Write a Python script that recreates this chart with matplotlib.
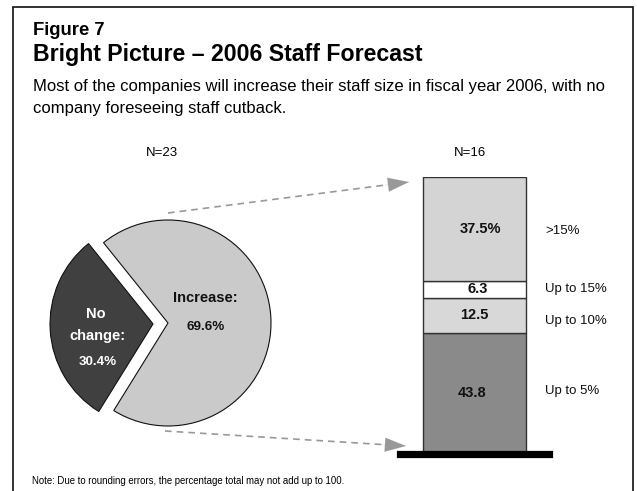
import matplotlib
matplotlib.use("Agg")
import matplotlib.pyplot as plt
from matplotlib.patches import Rectangle

plt.rcParams['font.family'] = ['Liberation Sans', 'DejaVu Sans']

# Pie: all companies (N=23)
pie_labels = ["Increase:", "No change:"]
pie_values = [69.6, 30.4]
pie_colors = ["#cacaca", "#404040"]

# Stacked bar: companies that increase staff (N=16), bottom to top
bar_labels = ["Up to 5%", "Up to 10%", "Up to 15%", ">15%"]
bar_values = [43.8, 12.5, 6.3, 37.5]
bar_value_text = ["43.8", "12.5", "6.3", "37.5%"]
bar_colors = ["#8a8a8a", "#d8d8d8", "#ffffff", "#d4d4d4"]

W, H = 637, 491
fig = plt.figure(figsize=(W / 100, H / 100), dpi=100)
ax = fig.add_axes([0, 0, 1, 1])


def Y(y):
    return H - y


# outer frame
ax.add_patch(Rectangle((12.5, -10), 620.5, Y(6.5) + 10, fill=False,
                       edgecolor="#222222", lw=1.3))

# headings
ax.text(33, Y(35), "Figure 7", fontsize=13.3, fontweight="bold", va="baseline")
ax.text(33, Y(61), "Bright Picture \u2013 2006 Staff Forecast", fontsize=16.7,
        fontweight="bold", va="baseline")
ax.text(33, Y(91), "Most of the companies will increase their staff size in fiscal year 2006, with no",
        fontsize=12, va="baseline")
ax.text(33, Y(112.5), "company foreseeing staff cutback.", fontsize=12, va="baseline")
ax.text(32, Y(484), "Note: Due to rounding errors, the percentage total may not add up to 100.",
        fontsize=6.9, va="baseline")

ax.text(162, Y(153), "N=23", fontsize=9.5, ha="center", va="center")
ax.text(470, Y(153), "N=16", fontsize=9.5, ha="center", va="center")

# pie, with the "No change" slice pulled out to the left
ax.pie(pie_values, colors=pie_colors, startangle=238.2,
       explode=[0, 15], center=(168, Y(323)), radius=103,
       wedgeprops=dict(edgecolor="#111111", linewidth=0.8),
       frame=True)
ax.set_xlim(0, W)
ax.set_ylim(0, H)
ax.axis("off")

ax.text(205, Y(298), pie_labels[0], fontsize=10.5, fontweight="bold",
        ha="center", va="center", color="#111111")
ax.text(206, Y(327), f"{pie_values[0]}%", fontsize=9.6, fontweight="bold",
        ha="center", va="center", color="#111111")
ax.text(96, Y(314), "No", fontsize=10.5, fontweight="bold",
        ha="center", va="center", color="white")
ax.text(97, Y(336), "change:", fontsize=10.5, fontweight="bold",
        ha="center", va="center", color="white")
ax.text(98, Y(362), f"{pie_values[1]}%", fontsize=9.6, fontweight="bold",
        ha="center", va="center", color="white")

# dashed connector arrows from the pie to the bar
arrow_col = "#999999"
for (x0, y0), (x1, y1) in [((168, 213), (409, 182)), ((165, 431), (406, 446))]:
    fx = x0 + (x1 - x0) * 0.92
    fy = y0 + (y1 - y0) * 0.92
    ax.plot([x0, fx], [Y(y0), Y(fy)], ls=(0, (4, 3)), color=arrow_col, lw=1.2)
    ax.annotate("", xy=(x1, Y(y1)), xytext=(x1 - (x1 - x0) * 0.1, Y(y1 - (y1 - y0) * 0.1)),
                arrowprops=dict(arrowstyle="-|>,head_length=1.5,head_width=0.5",
                                color=arrow_col, lw=0.1, shrinkA=0, shrinkB=0))

# stacked bar in its own axes
bx0, bx1 = 400, 549
by_top, by_bot = 176.7, 454
bax = fig.add_axes([bx0 / W, Y(by_bot) / H, (bx1 - bx0) / W, (by_bot - by_top) / H])
bax.set_xlim(-0.5, 0.5)
bax.set_ylim(0, sum(bar_values))
bar_w = (524 - 420.7) / (bx1 - bx0)
text_dx = [-0.019, 0.0, 0.023, 0.038]
bottom = 0
for v, c, t, dx in zip(bar_values, bar_colors, bar_value_text, text_dx):
    bax.bar(0, v, bottom=bottom, width=bar_w, color=c, edgecolor="#333333", linewidth=1.0)
    bax.text(dx, bottom + v / 2, t, fontsize=10.5, fontweight="bold",
             ha="center", va="center", color="#111111")
    bottom += v
for s in ["top", "left", "right"]:
    bax.spines[s].set_visible(False)
bax.spines["bottom"].set_linewidth(5.2)
bax.spines["bottom"].set_color("black")
bax.set_xticks([])
bax.set_yticks([])
bax.patch.set_alpha(0)

# category labels to the right of the bar
label_y = [391, 321, 289, 231]
for lab, yy in zip(bar_labels, label_y):
    ax.text(545, Y(yy), lab, fontsize=9.5, ha="left", va="center", color="#111111")

fig.savefig("out.png", dpi=100)
